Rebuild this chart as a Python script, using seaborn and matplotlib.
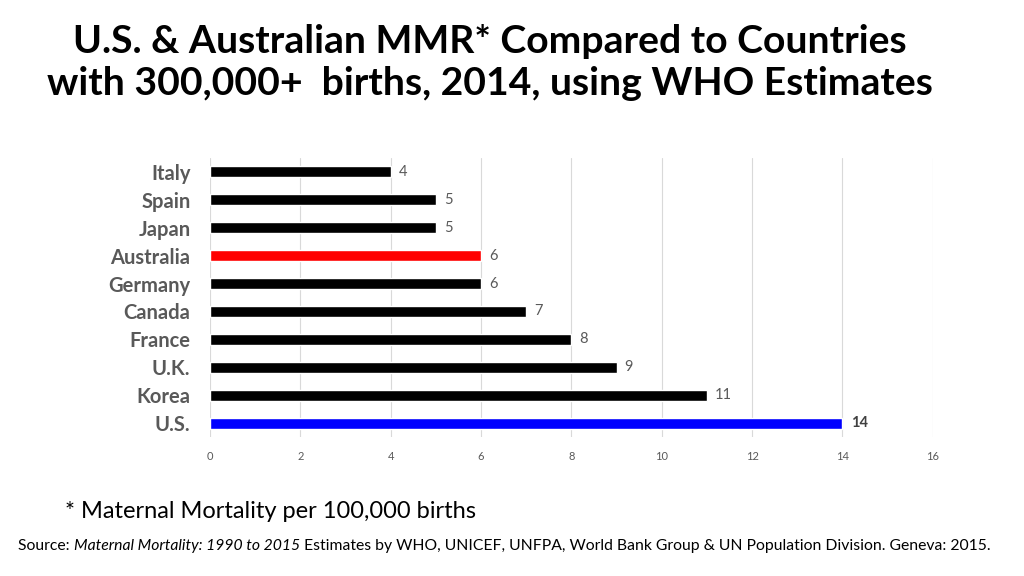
import matplotlib
matplotlib.use("Agg")
import matplotlib.pyplot as plt
import seaborn as sns
import pandas as pd

countries = ["Italy", "Spain", "Japan", "Australia", "Germany", "Canada", "France", "U.K.", "Korea", "U.S."]
mmr = [4, 5, 5, 6, 6, 7, 8, 9, 11, 14]
bar_colors = ["black", "black", "black", "#ff0000", "black", "black", "black", "black", "black", "#0000ff"]
x_ticks = [0, 2, 4, 6, 8, 10, 12, 14, 16]

df = pd.DataFrame({"country": countries, "mmr": mmr})

sns.set_style("white")
plt.rcParams["font.family"] = ["Lato", "DejaVu Sans"]

fig = plt.figure(figsize=(10.24, 5.76), dpi=100)
ax = fig.add_axes([0.205, 0.241, 0.706, 0.485])

sns.barplot(data=df, x="mmr", y="country", hue="country", order=countries,
            palette=dict(zip(countries, bar_colors)), width=0.38, legend=False,
            orient="h", ax=ax, saturation=1)

ax.set_xlim(0, 16)
ax.set_ylim(len(countries) - 0.5, -0.5)
ax.set_xticks(x_ticks)
ax.set_xticklabels([str(t) for t in x_ticks], color="#595959", fontsize=8)
ax.tick_params(axis="x", length=0, pad=10)
ax.tick_params(axis="y", length=0, pad=14)
for lbl in ax.get_yticklabels():
    lbl.set_fontsize(14.5)
    lbl.set_fontweight("bold")
    lbl.set_color("#595959")
ax.set_xlabel("")
ax.set_ylabel("")
ax.grid(axis="x", color="#d9d9d9", linewidth=0.8)
ax.set_axisbelow(True)
for s in ax.spines.values():
    s.set_visible(False)

for i, (c, v) in enumerate(zip(countries, mmr)):
    bold = c == "U.S."
    ax.text(v + 0.18, i, str(v), va="center", ha="left", fontsize=10.5,
            color="#404040" if bold else "#595959",
            fontweight="bold" if bold else "normal")

fig.text(0.478, 0.928, "U.S. & Australian MMR* Compared to Countries", ha="center", va="center",
         fontsize=28.2, fontweight="bold", color="black")
fig.text(0.478, 0.855, "with 300,000+  births, 2014, using WHO Estimates", ha="center", va="center",
         fontsize=28.2, fontweight="bold", color="black")

fig.text(65 / 1024, 1 - 511 / 576, "* Maternal Mortality per 100,000 births", ha="left", va="center",
         fontsize=17, color="black")

# source line with italic title
fig.canvas.draw()
renderer = fig.canvas.get_renderer()
x = 18 / 1024
y = 1 - 546 / 576
parts = [("Source: ", "normal"), ("Maternal Mortality: 1990 to 2015", "italic"),
         (" Estimates by WHO, UNICEF, UNFPA, World Bank Group & UN Population Division. Geneva: 2015.", "normal")]
for txt, style in parts:
    t = fig.text(x, y, txt, ha="left", va="center", fontsize=11.3, style=style, color="black")
    bb = t.get_window_extent(renderer=renderer)
    x += bb.width / fig.bbox.width

fig.savefig("out.png", dpi=100)
